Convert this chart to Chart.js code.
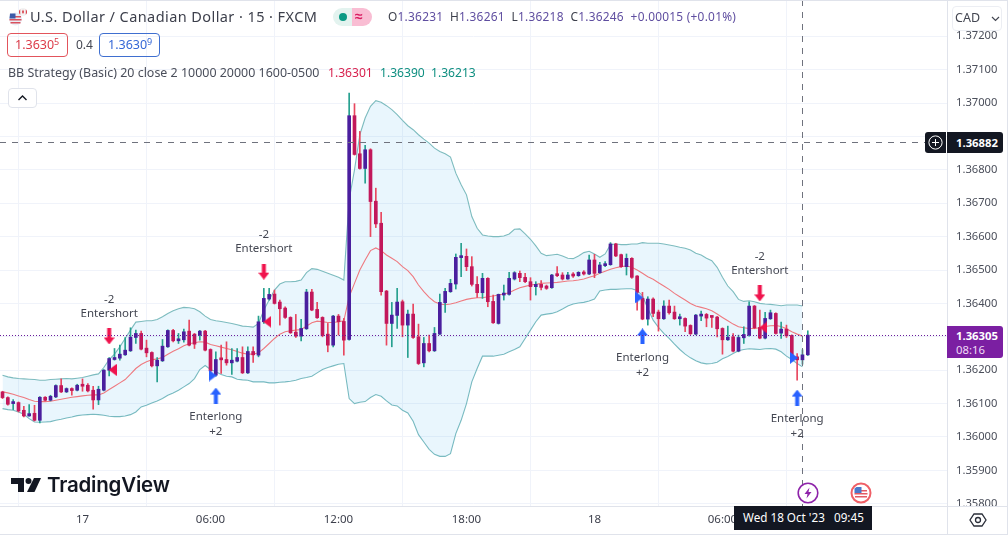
<!DOCTYPE html>
<html>
<head>
<meta charset="utf-8">
<title>USD/CAD 15</title>
<script src="https://cdn.jsdelivr.net/npm/chart.js@4"></script>
<style>
  html, body { margin: 0; padding: 0; background: #fff; }
  #wrap { position: relative; width: 1008px; height: 537px; overflow: hidden; font-family: "Noto Sans", sans-serif; color: #434651; }
  canvas { position: absolute; left: 0; top: 0; }
  .t { position: absolute; white-space: nowrap; line-height: 1; }
  .box { position: absolute; box-sizing: border-box; }
  sup { font-size: 9px; line-height: 0; vertical-align: 4px; }
</style>
</head>
<body>
<div id="wrap">
  <canvas id="chart" width="1008" height="537"></canvas>

  <svg class="box" style="left:8px;top:7px" width="20" height="20" viewBox="0 0 20 20">
    <circle cx="7.5" cy="12" r="6.5" fill="#e9eef6"/>
    <path d="M2 9h11v1.5H2zM1.5 12h12v1.5h-12zM2.5 15h10v1.5h-10z" fill="#d9525e"/>
    <path d="M2 6.5h5.5v5H1.5z" fill="#3c5aa8"/>
    <circle cx="15" cy="5" r="4" fill="#f3f3f3"/>
    <path d="M11 5a4 4 0 0 1 1.2-2.8V7.8A4 4 0 0 1 11 5zM19 5a4 4 0 0 1-1.2 2.8V2.2A4 4 0 0 1 19 5zM15 2.5l1 2.5-1 2-1-2z" fill="#d8323c"/>
  </svg>
  <div class="t" style="left:30px;top:9px;font-size:14.5px;letter-spacing:.42px;color:#3c3f4b">U.S. Dollar / Canadian Dollar · 15 · FXCM</div>

  <div class="box" style="left:333px;top:8px;width:20px;height:18px;background:#e3f3ef;border-radius:9px 0 0 9px"></div>
  <div class="box" style="left:339px;top:13px;width:8px;height:8px;background:#0a9a84;border-radius:50%"></div>
  <div class="box" style="left:352px;top:8px;width:20px;height:18px;background:#f9bdd3;border-radius:0 9px 9px 0"></div>
  <div class="t" style="left:355px;top:9px;font-size:14px;color:#d81b60;font-weight:700">≈</div>

  <div class="t" style="left:388px;top:11px;font-size:11.9px;letter-spacing:.25px;color:#5f4ea0"><span style="color:#3c3f4b">O</span>1.36231&nbsp; <span style="color:#3c3f4b">H</span>1.36261&nbsp; <span style="color:#3c3f4b">L</span>1.36218&nbsp; <span style="color:#3c3f4b">C</span>1.36246&nbsp; +0.00015 (+0.01%)</div>

  <div class="box" style="left:7px;top:33px;width:61px;height:24px;border:1px solid #e2545c;border-radius:4px"></div>
  <div class="t" style="left:15px;top:39px;font-size:12.5px;color:#dc3b48">1.3630<sup>5</sup></div>
  <div class="t" style="left:76px;top:39px;font-size:12px;color:#434651">0.4</div>
  <div class="box" style="left:99px;top:33px;width:61px;height:24px;border:1px solid #3f6fd0;border-radius:4px"></div>
  <div class="t" style="left:108px;top:39px;font-size:12.5px;color:#3567d6">1.3630<sup>9</sup></div>

  <div class="t" style="left:8px;top:67px;font-size:12.45px;color:#4a4e5a">BB Strategy (Basic) 20 close 2 10000 20000 1600-0500</div>
  <div class="t" style="left:328px;top:67px;font-size:12.1px;color:#d8234f">1.36301</div>
  <div class="t" style="left:380px;top:67px;font-size:12.1px;color:#0f8f80">1.36390</div>
  <div class="t" style="left:431px;top:67px;font-size:12.1px;color:#0f8f80">1.36213</div>

  <div class="box" style="left:8px;top:88px;width:29px;height:20px;border:1px solid #e0e3eb;border-radius:4px;background:#fff"></div>
  <svg class="box" style="left:17px;top:94px" width="11" height="8" viewBox="0 0 11 8"><path d="M1.5 6l4-4 4 4" fill="none" stroke="#131722" stroke-width="1.4"/></svg>

  <div class="box" style="left:952px;top:6px;width:50px;height:25px;background:#fff;border:1px solid #eceef3;border-radius:4px"></div>
  <div class="t" style="left:955px;top:12px;font-size:12.5px;color:#434651">CAD</div>
  <svg class="box" style="left:991px;top:16px" width="9" height="6" viewBox="0 0 9 6"><path d="M1 1l3.5 3.5L8 1" fill="none" stroke="#434651" stroke-width="1.2"/></svg>

  <div class="box" style="left:925px;top:132px;width:21px;height:21px;background:#131722;border-radius:3px 0 0 3px"></div>
  <svg class="box" style="left:927px;top:134px" width="17" height="17" viewBox="0 0 17 17"><circle cx="8.5" cy="8.5" r="6.6" fill="none" stroke="#fff"/><path d="M8.5 5v7M5 8.5h7" stroke="#fff"/></svg>
  <div class="box" style="left:947px;top:132px;width:56px;height:21px;background:#131722;border-radius:0 3px 3px 0"></div>
  <div class="t" style="left:956px;top:137px;font-size:11.3px;font-weight:700;color:#fff">1.36882</div>

  <div class="box" style="left:947px;top:326px;width:56px;height:32px;background:#7b1fa2;border-radius:0 3px 3px 0"></div>
  <div class="t" style="left:956px;top:330px;font-size:11.3px;font-weight:700;color:#fff">1.36305</div>
  <div class="t" style="left:956px;top:344px;font-size:11.3px;color:#f0dcf7">08:16</div>

  <svg class="box" style="left:10px;top:476px" width="32" height="18" viewBox="0 0 32 18">
    <path d="M1 2h13v14H8V8H1z" fill="#131722"/><circle cx="18.5" cy="5" r="3" fill="#131722"/><path d="M24 2h7l-6.5 14h-7.5z" fill="#131722"/>
  </svg>
  <div class="t" style="left:47px;top:475px;font-size:20.5px;font-weight:600;font-family:Inter,sans-serif;letter-spacing:-.2px;color:#131722">TradingView</div>

  <svg class="box" style="left:797px;top:482px" width="22" height="22" viewBox="0 0 22 22">
    <circle cx="11" cy="11" r="9.8" fill="#fff" stroke="#8e24aa" stroke-width="1.6"/><path d="M12.5 5.5L7.5 12h3l-1 4.5 5-6.5h-3z" fill="#8e24aa"/>
  </svg>
  <svg class="box" style="left:850px;top:482px" width="22" height="22" viewBox="0 0 22 22">
    <circle cx="11" cy="11" r="9.5" fill="#fff" stroke="#ef5f66" stroke-width="2"/>
    <path d="M5 8h12v1.5H5zM4.5 11h13v1.5h-13zM5 14h12v1.5H5z" fill="#e35a64"/><path d="M4.5 6.5l2-1.5h5v6h-7z" fill="#4a78c9"/>
  </svg>

  <div class="box" style="left:734px;top:506px;width:138px;height:24px;background:#131722"></div>
  <div class="t" style="left:743px;top:512px;font-size:11.7px;color:#fff;white-space:pre">Wed 18 Oct '23   09:45</div>
  <svg class="box" style="left:969px;top:511px" width="18" height="18" viewBox="0 0 18 18"><path d="M5 3h8l4 6-4 6H5L1 9z" fill="none" stroke="#2a2e39" stroke-width="1.3"/><circle cx="9" cy="9" r="2.5" fill="none" stroke="#2a2e39" stroke-width="1.3"/></svg>
</div>

<script>
// first bar on the chart, counted in 15 min bars from 17 Oct 00:00
const firstBar = -15;

const opens = [
  1.36135,1.36118,1.36100,1.36103,1.36080,1.36063,1.36071,1.36050,1.36119,1.36110,
  1.36120,1.36154,1.36135,1.36145,1.36140,1.36154,1.36155,1.36140,1.36111,1.36140,
  1.36200,1.36232,1.36236,1.36246,1.36258,1.36298,1.36310,1.36266,1.36253,1.36213,
  1.36228,1.36270,1.36319,1.36288,1.36291,1.36317,1.36308,1.36305,1.36317,1.36262,
  1.36185,1.36233,1.36232,1.36222,1.36227,1.36238,1.36192,1.36256,1.36245,1.36345,
  1.36413,1.36428,1.36404,1.36386,1.36358,1.36314,1.36302,1.36324,1.36434,1.36382,
  1.36358,1.36308,1.36275,1.36362,1.36346,1.36292,1.36962,1.36848,1.36804,1.36860,
  1.36706,1.36640,1.36437,1.36340,1.36364,1.36405,1.36335,1.36368,1.36300,1.36222,
  1.36280,1.36258,1.36308,1.36402,1.36435,1.36458,1.36537,1.36541,1.36510,1.36457,
  1.36432,1.36475,1.36406,1.36340,1.36425,1.36427,1.36473,1.36490,1.36478,1.36465,
  1.36450,1.36457,1.36452,1.36447,1.36485,1.36485,1.36473,1.36485,1.36483,1.36493,
  1.36488,1.36530,1.36492,1.36513,1.36516,1.36578,1.36546,1.36510,1.36535,1.36482,
  1.36415,1.36353,1.36413,1.36374,1.36354,1.36392,1.36374,1.36354,1.36355,1.36334,
  1.36308,1.36362,1.36367,1.36360,1.36359,1.36325,1.36291,1.36300,1.36257,1.36297,
  1.36305,1.36392,1.36328,1.36296,1.36354,1.36370,1.36311,1.36323,1.36304,1.36240,
  1.36231,1.36246
];
const closes = [
  1.36118,1.36098,1.36104,1.36078,1.36063,1.36070,1.36050,1.36119,1.36110,1.36122,
  1.36154,1.36135,1.36145,1.36139,1.36155,1.36152,1.36138,1.36111,1.36143,1.36200,
  1.36235,1.36238,1.36248,1.36260,1.36299,1.36310,1.36263,1.36252,1.36213,1.36230,
  1.36272,1.36319,1.36288,1.36292,1.36315,1.36275,1.36278,1.36317,1.36260,1.36198,
  1.36232,1.36231,1.36222,1.36230,1.36238,1.36192,1.36256,1.36246,1.36345,1.36415,
  1.36427,1.36400,1.36384,1.36358,1.36312,1.36302,1.36325,1.36434,1.36380,1.36357,
  1.36304,1.36275,1.36362,1.36345,1.36290,1.36962,1.36846,1.36804,1.36860,1.36705,
  1.36638,1.36435,1.36340,1.36365,1.36404,1.36335,1.36368,1.36298,1.36220,1.36280,
  1.36258,1.36310,1.36403,1.36436,1.36460,1.36538,1.36541,1.36510,1.36457,1.36432,
  1.36475,1.36405,1.36342,1.36427,1.36429,1.36475,1.36492,1.36477,1.36465,1.36450,
  1.36457,1.36448,1.36445,1.36485,1.36483,1.36473,1.36485,1.36482,1.36493,1.36488,
  1.36530,1.36490,1.36515,1.36518,1.36578,1.36542,1.36510,1.36535,1.36478,1.36433,
  1.36353,1.36413,1.36370,1.36354,1.36392,1.36372,1.36354,1.36356,1.36332,1.36309,
  1.36365,1.36367,1.36356,1.36358,1.36324,1.36291,1.36299,1.36257,1.36298,1.36307,
  1.36392,1.36327,1.36296,1.36355,1.36372,1.36310,1.36323,1.36303,1.36240,1.36231,
  1.36246,1.36305
];
const highs = [
  1.36137,1.36120,1.36112,1.36105,1.36092,1.36097,1.36095,1.36121,1.36121,1.36125,
  1.36156,1.36174,1.36147,1.36147,1.36158,1.36174,1.36160,1.36152,1.36152,1.36202,
  1.36238,1.36265,1.36275,1.36298,1.36327,1.36320,1.36317,1.36290,1.36255,1.36238,
  1.36292,1.36321,1.36322,1.36310,1.36323,1.36350,1.36310,1.36319,1.36319,1.36264,
  1.36255,1.36275,1.36285,1.36265,1.36265,1.36270,1.36270,1.36270,1.36362,1.36445,
  1.36445,1.36440,1.36410,1.36390,1.36360,1.36367,1.36352,1.36442,1.36442,1.36403,
  1.36360,1.36340,1.36364,1.36367,1.36355,1.37030,1.36998,1.36915,1.36873,1.36863,
  1.36745,1.36673,1.36439,1.36403,1.36445,1.36410,1.36380,1.36398,1.36338,1.36298,
  1.36305,1.36328,1.36428,1.36445,1.36472,1.36548,1.36580,1.36563,1.36540,1.36480,
  1.36490,1.36477,1.36425,1.36428,1.36455,1.36493,1.36495,1.36497,1.36490,1.36477,
  1.36465,1.36468,1.36455,1.36487,1.36510,1.36492,1.36493,1.36492,1.36495,1.36498,
  1.36545,1.36547,1.36523,1.36525,1.36582,1.36580,1.36548,1.36548,1.36537,1.36483,
  1.36433,1.36420,1.36417,1.36380,1.36408,1.36410,1.36392,1.36368,1.36357,1.36336,
  1.36367,1.36377,1.36370,1.36362,1.36361,1.36327,1.36332,1.36310,1.36305,1.36330,
  1.36405,1.36394,1.36380,1.36373,1.36380,1.36372,1.36344,1.36335,1.36306,1.36250,
  1.36261,1.36318
];
const lows = [
  1.36115,1.36095,1.36082,1.36075,1.36060,1.36062,1.36048,1.36042,1.36108,1.36108,
  1.36118,1.36133,1.36133,1.36125,1.36138,1.36137,1.36135,1.36083,1.36097,1.36138,
  1.36183,1.36230,1.36230,1.36244,1.36256,1.36280,1.36261,1.36240,1.36210,1.36165,
  1.36226,1.36268,1.36285,1.36280,1.36284,1.36273,1.36265,1.36290,1.36258,1.36180,
  1.36182,1.36190,1.36215,1.36187,1.36225,1.36190,1.36190,1.36223,1.36240,1.36340,
  1.36410,1.36398,1.36335,1.36355,1.36310,1.36298,1.36288,1.36322,1.36378,1.36355,
  1.36300,1.36255,1.36270,1.36305,1.36245,1.36290,1.36844,1.36802,1.36760,1.36600,
  1.36627,1.36425,1.36275,1.36270,1.36325,1.36300,1.36238,1.36295,1.36217,1.36210,
  1.36255,1.36256,1.36306,1.36373,1.36433,1.36443,1.36480,1.36498,1.36452,1.36418,
  1.36415,1.36390,1.36340,1.36338,1.36410,1.36425,1.36470,1.36465,1.36462,1.36410,
  1.36425,1.36440,1.36442,1.36445,1.36480,1.36470,1.36472,1.36478,1.36481,1.36485,
  1.36486,1.36477,1.36490,1.36510,1.36514,1.36540,1.36508,1.36485,1.36475,1.36380,
  1.36351,1.36335,1.36360,1.36317,1.36352,1.36368,1.36352,1.36335,1.36315,1.36307,
  1.36306,1.36348,1.36330,1.36328,1.36300,1.36248,1.36289,1.36255,1.36255,1.36280,
  1.36302,1.36324,1.36294,1.36294,1.36352,1.36308,1.36295,1.36298,1.36238,1.36170,
  1.36218,1.36244
];

const upperBand = [
  1.36185,1.36180,1.36177,1.36175,1.36174,1.36173,1.36172,1.36170,1.36170,1.36172,
  1.36173,1.36174,1.36175,1.36174,1.36176,1.36178,1.36182,1.36186,1.36189,1.36208,
  1.36232,1.36248,1.36270,1.36295,1.36320,1.36344,1.36346,1.36348,1.36348,1.36352,
  1.36360,1.36370,1.36378,1.36384,1.36388,1.36387,1.36384,1.36375,1.36362,1.36352,
  1.36348,1.36346,1.36343,1.36340,1.36336,1.36332,1.36331,1.36329,1.36340,1.36380,
  1.36410,1.36440,1.36458,1.36465,1.36465,1.36466,1.36470,1.36492,1.36504,1.36502,
  1.36496,1.36490,1.36484,1.36478,1.36470,1.36710,1.36800,1.36905,1.36955,1.36990,
  1.37007,1.37002,1.36992,1.36980,1.36965,1.36948,1.36932,1.36920,1.36905,1.36892,
  1.36880,1.36865,1.36855,1.36848,1.36838,1.36790,1.36755,1.36725,1.36660,1.36625,
  1.36605,1.36602,1.36600,1.36600,1.36602,1.36608,1.36622,1.36623,1.36608,1.36592,
  1.36572,1.36550,1.36543,1.36545,1.36547,1.36542,1.36535,1.36534,1.36542,1.36552,
  1.36556,1.36548,1.36538,1.36548,1.36576,1.36578,1.36576,1.36576,1.36578,1.36578,
  1.36582,1.36580,1.36580,1.36580,1.36578,1.36575,1.36572,1.36568,1.36565,1.36560,
  1.36550,1.36545,1.36535,1.36528,1.36508,1.36478,1.36452,1.36435,1.36412,1.36406,
  1.36408,1.36405,1.36400,1.36398,1.36397,1.36395,1.36393,1.36395,1.36395,1.36395,
  1.36392
];
const middleBand = [
  1.36135,1.36132,1.36128,1.36123,1.36118,1.36112,1.36107,1.36106,1.36106,1.36107,
  1.36110,1.36113,1.36116,1.36119,1.36121,1.36123,1.36125,1.36126,1.36126,1.36132,
  1.36142,1.36152,1.36162,1.36172,1.36188,1.36205,1.36217,1.36225,1.36231,1.36234,
  1.36238,1.36248,1.36257,1.36264,1.36273,1.36279,1.36282,1.36285,1.36284,1.36277,
  1.36273,1.36269,1.36265,1.36261,1.36256,1.36251,1.36248,1.36248,1.36252,1.36265,
  1.36280,1.36295,1.36308,1.36315,1.36318,1.36320,1.36322,1.36332,1.36342,1.36347,
  1.36345,1.36343,1.36343,1.36345,1.36348,1.36420,1.36460,1.36500,1.36530,1.36558,
  1.36566,1.36558,1.36545,1.36535,1.36525,1.36510,1.36498,1.36480,1.36455,1.36435,
  1.36418,1.36405,1.36398,1.36396,1.36398,1.36402,1.36407,1.36412,1.36415,1.36417,
  1.36417,1.36420,1.36422,1.36425,1.36428,1.36432,1.36440,1.36447,1.36451,1.36455,
  1.36457,1.36460,1.36461,1.36462,1.36463,1.36465,1.36467,1.36468,1.36470,1.36473,
  1.36478,1.36483,1.36490,1.36496,1.36502,1.36507,1.36510,1.36512,1.36508,1.36500,
  1.36490,1.36480,1.36472,1.36462,1.36452,1.36442,1.36430,1.36420,1.36410,1.36400,
  1.36392,1.36388,1.36384,1.36378,1.36368,1.36358,1.36348,1.36338,1.36330,1.36327,
  1.36325,1.36325,1.36327,1.36331,1.36333,1.36334,1.36331,1.36324,1.36315,1.36308,
  1.36302
];
const lowerBand = [
  1.36085,1.36082,1.36080,1.36075,1.36068,1.36055,1.36045,1.36044,1.36045,1.36046,
  1.36050,1.36053,1.36057,1.36060,1.36064,1.36066,1.36067,1.36068,1.36067,1.36065,
  1.36062,1.36061,1.36061,1.36063,1.36067,1.36075,1.36090,1.36095,1.36102,1.36108,
  1.36115,1.36125,1.36132,1.36140,1.36150,1.36160,1.36175,1.36202,1.36214,1.36202,
  1.36195,1.36187,1.36182,1.36180,1.36173,1.36171,1.36170,1.36165,1.36165,1.36165,
  1.36162,1.36162,1.36164,1.36165,1.36167,1.36170,1.36175,1.36178,1.36182,1.36192,
  1.36202,1.36208,1.36213,1.36218,1.36220,1.36115,1.36100,1.36104,1.36106,1.36118,
  1.36127,1.36122,1.36108,1.36096,1.36093,1.36080,1.36072,1.36047,1.36007,1.35985,
  1.35963,1.35948,1.35942,1.35942,1.35950,1.36010,1.36050,1.36100,1.36165,1.36205,
  1.36242,1.36242,1.36242,1.36245,1.36248,1.36255,1.36262,1.36270,1.36295,1.36320,
  1.36345,1.36365,1.36368,1.36370,1.36375,1.36383,1.36392,1.36398,1.36401,1.36403,
  1.36407,1.36413,1.36437,1.36440,1.36442,1.36442,1.36443,1.36444,1.36444,1.36439,
  1.36423,1.36385,1.36350,1.36328,1.36310,1.36295,1.36278,1.36262,1.36248,1.36237,
  1.36228,1.36222,1.36219,1.36220,1.36224,1.36234,1.36241,1.36250,1.36258,1.36262,
  1.36264,1.36263,1.36262,1.36264,1.36265,1.36263,1.36255,1.36242,1.36232,1.36220,
  1.36210
];

// axis ticks
const timeTicks = [0, 24, 48, 72, 96, 120];
const timeLabels = ['17', '06:00', '12:00', '18:00', '18', '06:00'];
const priceTicks = [1.358, 1.359, 1.360, 1.361, 1.362, 1.363, 1.364, 1.365, 1.366, 1.367, 1.368, 1.369, 1.370, 1.371, 1.372];

// strategy signals
const shortBars = [5, 34, 127];
const shortPrices = [1.36301, 1.36495, 1.36430];
const shortFillPrices = [1.36201, 1.36345, 1.36328];
const longBars = [25, 105, 134];
const longPrices = [1.36124, 1.36301, 1.36118];
const longFillPrices = [1.36184, 1.36418, 1.36237];

const lastPrice = 1.36305;
const crossBar = 135;
const crossPrice = 1.36882;

const upBody = '#4a1f9e', downBody = '#c2185b';
const upWick = '#26a08f', downWick = '#e8475f';
const red = '#f0134d', blue = '#2962ff';

const barX = i => firstBar + i;
const isUp = i => closes[i] >= opens[i];

// little canvases used as point styles for the arrows and the fill triangles
const arrowImage = (color, up) => {
  const c = document.createElement('canvas');
  c.width = 11; c.height = 16;
  const g = c.getContext('2d');
  if (!up) { g.translate(0, 16); g.scale(1, -1); }
  g.fillStyle = color;
  g.beginPath();
  g.moveTo(5.5, 0); g.lineTo(11, 7); g.lineTo(7.5, 7); g.lineTo(7.5, 16); g.lineTo(3.5, 16); g.lineTo(3.5, 7); g.lineTo(0, 7);
  g.closePath();
  g.fill();
  return c;
};
const triangleImage = (color, right) => {
  const c = document.createElement('canvas');
  c.width = 8; c.height = 12;
  const g = c.getContext('2d');
  g.fillStyle = color;
  g.beginPath();
  if (right) { g.moveTo(0, 0); g.lineTo(8, 6); g.lineTo(0, 12); }
  else { g.moveTo(8, 0); g.lineTo(0, 6); g.lineTo(8, 12); }
  g.closePath();
  g.fill();
  return c;
};

const bandData = values => values.map((v, i) => ({ x: barX(i), y: v }));
const markerSet = (bars, prices, image, shift) => ({
  type: 'line',
  showLine: false,
  order: 1,
  data: bars.map((b, i) => ({ x: b + shift, y: prices[i] })),
  pointStyle: image,
  pointRadius: 6,
  pointHoverRadius: 6
});

// no label overflow margins, the plot has to fill the canvas edge to edge
const noPadding = s => { s.paddingLeft = 0; s.paddingRight = 0; s.paddingTop = 0; s.paddingBottom = 0; };

const overlay = {
  id: 'overlay',
  afterDatasetsDraw(chart) {
    const { ctx, scales: { x, y }, chartArea: area } = chart;
    ctx.save();

    // last price and crosshair
    ctx.lineWidth = 1;
    ctx.strokeStyle = '#6a1b9a';
    ctx.setLineDash([1, 2]);
    ctx.beginPath();
    ctx.moveTo(area.left, Math.round(y.getPixelForValue(lastPrice)) + .5);
    ctx.lineTo(area.right, Math.round(y.getPixelForValue(lastPrice)) + .5);
    ctx.stroke();
    ctx.strokeStyle = '#6f727d';
    ctx.setLineDash([6, 6]);
    ctx.beginPath();
    ctx.moveTo(area.left, Math.round(y.getPixelForValue(crossPrice)) + .5);
    ctx.lineTo(area.right, Math.round(y.getPixelForValue(crossPrice)) + .5);
    ctx.moveTo(Math.round(x.getPixelForValue(crossBar)) + .5, area.top);
    ctx.lineTo(Math.round(x.getPixelForValue(crossBar)) + .5, area.bottom);
    ctx.stroke();
    ctx.setLineDash([]);

    // signal labels
    ctx.fillStyle = '#434651';
    ctx.font = '11.5px "Noto Sans", sans-serif';
    ctx.textAlign = 'center';
    ctx.textBaseline = 'middle';
    shortBars.forEach((b, i) => {
      const px = x.getPixelForValue(b), py = y.getPixelForValue(shortPrices[i]);
      ctx.fillText('-2', px, py - 37);
      ctx.fillText('Entershort', px, py - 23);
    });
    longBars.forEach((b, i) => {
      const px = x.getPixelForValue(b), py = y.getPixelForValue(longPrices[i]);
      ctx.fillText('Enterlong', px, py + 21);
      ctx.fillText('+2', px, py + 36);
    });

    // time axis strip sits over the price labels
    ctx.fillStyle = '#fff';
    ctx.fillRect(0, area.bottom, chart.width, chart.height - area.bottom);
    ctx.strokeStyle = '#e0e3eb';
    ctx.beginPath();
    ctx.moveTo(0, area.bottom + .5); ctx.lineTo(chart.width, area.bottom + .5);
    ctx.moveTo(0, 534.5); ctx.lineTo(chart.width, 534.5);
    ctx.moveTo(0, .5); ctx.lineTo(chart.width, .5);
    ctx.moveTo(area.right + .5, 0); ctx.lineTo(area.right + .5, 534);
    ctx.moveTo(1007.5, 0); ctx.lineTo(1007.5, 534);
    ctx.stroke();
    ctx.restore();
  }
};

const barLabels = opens.map((v, i) => barX(i));

new Chart(document.getElementById('chart'), {
  type: 'bar',
  data: {
    labels: barLabels,
    datasets: [
      {
        type: 'line', label: 'Upper', order: 6,
        data: bandData(upperBand),
        borderColor: '#7dbcbf', borderWidth: 1.1, pointRadius: 0,
        fill: '+1', backgroundColor: 'rgba(3,155,229,0.085)'
      },
      {
        type: 'line', label: 'Lower', order: 6,
        data: bandData(lowerBand),
        borderColor: '#7dbcbf', borderWidth: 1.1, pointRadius: 0, fill: false
      },
      {
        type: 'line', label: 'Basis', order: 5,
        data: bandData(middleBand),
        borderColor: '#ee7a80', borderWidth: 1.1, pointRadius: 0, fill: false
      },
      {
        label: 'Wicks', order: 3, grouped: false, barThickness: 1,
        data: highs.map((h, i) => ({ x: barX(i), y: [lows[i], h] })),
        backgroundColor: ctx => isUp(ctx.dataIndex) ? upWick : downWick
      },
      {
        label: 'Bodies', order: 2, grouped: false, barThickness: 3, minBarLength: 2,
        data: opens.map((o, i) => ({ x: barX(i), y: [o, closes[i]] })),
        backgroundColor: ctx => isUp(ctx.dataIndex) ? upBody : downBody
      },
      markerSet(shortBars, shortPrices, arrowImage(red, false), 0),
      markerSet(longBars, longPrices, arrowImage(blue, true), 0),
      markerSet(shortBars, shortFillPrices, triangleImage(red, false), 0.65),
      markerSet(longBars, longFillPrices, triangleImage(blue, true), -0.6)
    ]
  },
  options: {
    responsive: false,
    animation: false,
    events: [],
    layout: { padding: 0, autoPadding: false },
    plugins: { legend: { display: false }, tooltip: { enabled: false } },
    scales: {
      x: {
        type: 'linear',
        offset: false,
        min: -15.47,
        max: 162.1,
        afterFit: s => { s.height = 31; noPadding(s); },
        afterBuildTicks: s => { s.ticks = timeTicks.map(v => ({ value: v })); },
        border: { display: false },
        grid: { color: '#f0f3fa', drawTicks: false },
        ticks: {
          z: 1,
          autoSkip: false,
          maxRotation: 0,
          padding: 7,
          color: '#3c3f4b',
          font: { family: '"Noto Sans", sans-serif', size: 11.5 },
          callback: value => timeLabels[timeTicks.indexOf(value)]
        }
      },
      y: {
        type: 'linear',
        position: 'right',
        min: 1.357934,
        max: 1.373084,
        afterFit: s => { s.width = 61; noPadding(s); },
        afterBuildTicks: s => { s.ticks = priceTicks.map(v => ({ value: v })); },
        border: { display: false },
        grid: { color: '#f0f3fa', drawTicks: false },
        ticks: {
          autoSkip: false,
          padding: 9,
          color: '#4a4e5a',
          font: { family: '"Noto Sans", sans-serif', size: 11.2 },
          callback: value => value.toFixed(5)
        }
      }
    }
  },
  plugins: [overlay]
});
</script>
</body>
</html>
